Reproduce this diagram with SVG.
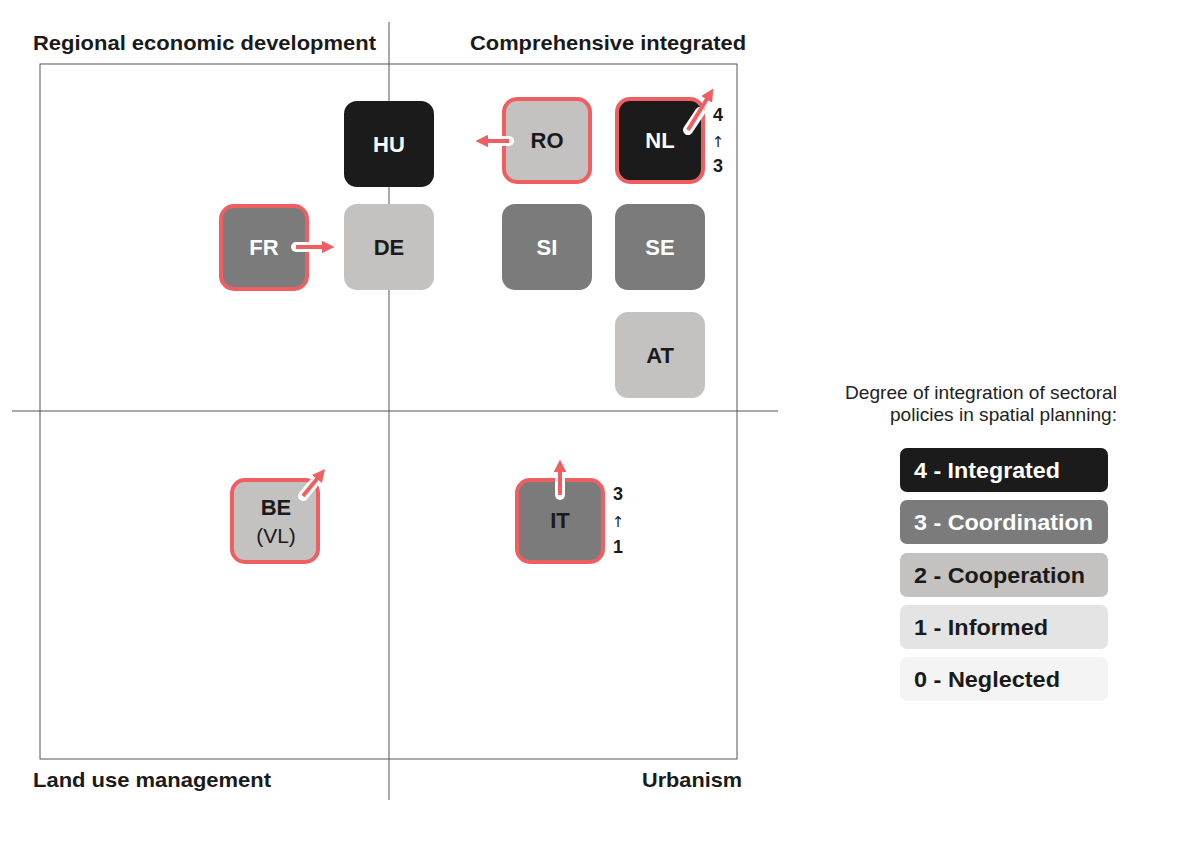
<svg xmlns="http://www.w3.org/2000/svg" width="1200" height="848" viewBox="0 0 1200 848">
<style>
.hdr{font-family:"Liberation Sans",Arial,sans-serif;font-weight:bold;font-size:21px;fill:#1a1a1a}
.nt{font-family:"Liberation Sans",Arial,sans-serif;font-weight:bold;font-size:22px;text-anchor:middle}
.w{fill:#ffffff}.d{fill:#1a1a1a}
.c4{fill:#1b1b1b}.c3{fill:#7b7b7b}.c2{fill:#c4c1c1}.c1{fill:#e4e4e4}.c0{fill:#f4f4f4}
.hl{stroke:#ef5f62;stroke-width:4}
.ax{stroke:#555;stroke-width:1;fill:none}
.lg{font-family:"Liberation Sans",Arial,sans-serif;font-size:18.5px;fill:#222;text-anchor:end}
.lt{font-family:"Liberation Sans",Arial,sans-serif;font-weight:bold;font-size:22px}
.sm{font-family:"Liberation Sans",Arial,sans-serif;font-weight:bold;font-size:18px;fill:#1a1a1a;text-anchor:middle}
.up{font-family:"DejaVu Sans",sans-serif;font-size:15px;fill:#1a1a1a;text-anchor:middle}
.aw{stroke:#fff;stroke-width:10;stroke-linecap:round;fill:none}
.ar{stroke:#ef5f62;stroke-width:4;fill:none}
</style>
<defs>
<marker id="ah" viewBox="0 0 10 10" refX="5" refY="5" markerWidth="3.2" markerHeight="3.2" orient="auto" markerUnits="strokeWidth">
<path d="M0,0 L10,5 L0,10 z" fill="#ef5f62"/>
</marker>
</defs>
<rect width="1200" height="848" fill="#ffffff"/>
<g id="axes">
<rect class="ax" x="40" y="64" width="697" height="695" stroke="#888"/>
<line class="ax" x1="389" y1="22" x2="389" y2="800"/>
<line class="ax" x1="12" y1="411" x2="778" y2="411"/>
</g>
<g id="headers">
<text class="hdr" x="33" y="50" textLength="343" lengthAdjust="spacingAndGlyphs">Regional economic development</text>
<text class="hdr" x="470" y="50" textLength="276" lengthAdjust="spacingAndGlyphs">Comprehensive integrated</text>
<text class="hdr" x="33" y="787" textLength="238" lengthAdjust="spacingAndGlyphs">Land use management</text>
<text class="hdr" x="642" y="787" textLength="100" lengthAdjust="spacingAndGlyphs">Urbanism</text>
</g>
<g id="HU"><rect class="c4" x="344" y="101" width="90" height="86" rx="13"/><text class="nt w" x="389" y="152">HU</text></g>
<g id="RO"><rect class="c2 hl" x="504" y="99" width="86" height="83" rx="13"/><text class="nt d" x="547" y="148">RO</text></g>
<g id="NL"><rect class="c4 hl" x="617" y="99" width="86" height="83" rx="13"/><text class="nt w" x="660" y="148">NL</text></g>
<g id="FR"><rect class="c3 hl" x="221" y="206" width="86" height="83" rx="13"/><text class="nt w" x="264" y="255">FR</text></g>
<g id="DE"><rect class="c2" x="344" y="204" width="90" height="86" rx="13"/><text class="nt d" x="389" y="255">DE</text></g>
<g id="SI"><rect class="c3" x="502" y="204" width="90" height="86" rx="13"/><text class="nt w" x="547" y="255">SI</text></g>
<g id="SE"><rect class="c3" x="615" y="204" width="90" height="86" rx="13"/><text class="nt w" x="660" y="255">SE</text></g>
<g id="AT"><rect class="c2" x="615" y="312" width="90" height="86" rx="13"/><text class="nt d" x="660" y="363">AT</text></g>
<g id="BE"><rect class="c2 hl" x="232" y="480" width="86" height="82" rx="13"/><text class="nt d" x="276" y="515">BE</text><text class="nt d" x="276" y="543" style="font-weight:normal;font-size:21px">(VL)</text></g>
<g id="IT"><rect class="c3 hl" x="517" y="480" width="86" height="82" rx="13"/><text class="nt d" x="560" y="528">IT</text></g>
<g id="connectors">
<line class="aw" x1="509" y1="141" x2="490" y2="141"/>
<line class="ar" x1="509" y1="141" x2="482" y2="141" marker-end="url(#ah)"/>
<line class="aw" x1="688" y1="130" x2="700" y2="112"/>
<line class="ar" x1="688" y1="130" x2="710" y2="94" marker-end="url(#ah)"/>
<line class="aw" x1="296" y1="247" x2="312" y2="247"/>
<line class="ar" x1="296" y1="247" x2="328" y2="247" marker-end="url(#ah)"/>
<line class="aw" x1="303" y1="496" x2="313" y2="484"/>
<line class="ar" x1="303" y1="496" x2="321" y2="474" marker-end="url(#ah)"/>
<line class="aw" x1="560" y1="495" x2="560" y2="478"/>
<line class="ar" x1="560" y1="495" x2="560" y2="466" marker-end="url(#ah)"/>
</g>
<g id="NL-change"><text class="sm" x="718" y="121">4</text><text class="up" x="718" y="147">↑</text><text class="sm" x="718" y="172">3</text></g>
<g id="IT-change"><text class="sm" x="618" y="500">3</text><text class="up" x="618" y="527">↑</text><text class="sm" x="618" y="553">1</text></g>
<g id="legend">
<text class="lg" x="1117" y="399" textLength="272" lengthAdjust="spacingAndGlyphs">Degree of integration of sectoral</text>
<text class="lg" x="1117" y="421" textLength="227" lengthAdjust="spacingAndGlyphs">policies in spatial planning:</text>
<rect class="c4" x="900" y="448" width="208" height="44" rx="7"/><text class="lt w" x="914" y="478" textLength="146" lengthAdjust="spacingAndGlyphs">4 - Integrated</text>
<rect class="c3" x="900" y="500" width="208" height="44" rx="7"/><text class="lt w" x="914" y="530" textLength="179" lengthAdjust="spacingAndGlyphs">3 - Coordination</text>
<rect class="c2" x="900" y="553" width="208" height="44" rx="7"/><text class="lt d" x="914" y="583" textLength="171" lengthAdjust="spacingAndGlyphs">2 - Cooperation</text>
<rect class="c1" x="900" y="605" width="208" height="44" rx="7"/><text class="lt d" x="914" y="635" textLength="134" lengthAdjust="spacingAndGlyphs">1 - Informed</text>
<rect class="c0" x="900" y="657" width="208" height="44" rx="7"/><text class="lt d" x="914" y="687" textLength="146" lengthAdjust="spacingAndGlyphs">0 - Neglected</text>
</g>
</svg>
